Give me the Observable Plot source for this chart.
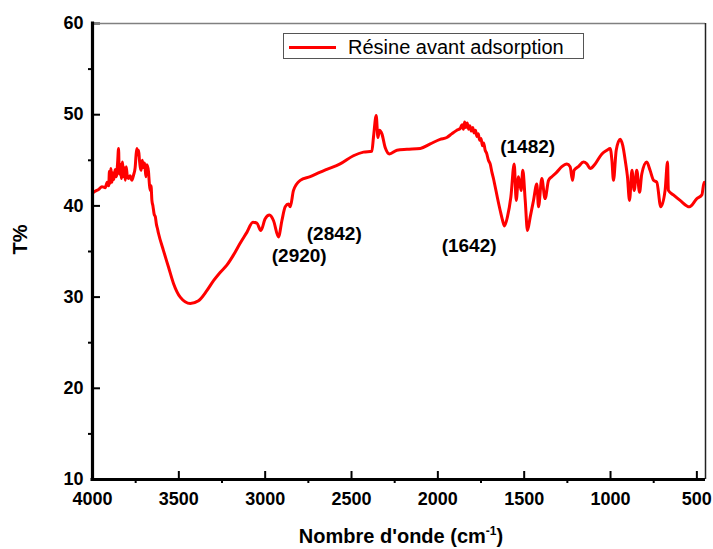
<!DOCTYPE html>
<html>
<head>
<meta charset="utf-8">
<script src="https://cdn.jsdelivr.net/npm/d3@7"></script>
<script src="https://cdn.jsdelivr.net/npm/@observablehq/plot@0.6"></script>
<style>
  html, body { margin: 0; padding: 0; background: #fff; }
  #wrap { position: relative; width: 713px; height: 549px; font-family: "Liberation Sans", Arial, sans-serif; }
  #legend { position: absolute; left: 283px; top: 33px; width: 299px; height: 24px; border: 1px solid #555; background: #fff; }
  #legend .swatch { position: absolute; left: 5px; top: 12px; width: 47px; height: 3px; background: #ff0000; }
  #legend .lbl { position: absolute; left: 64px; top: 3px; font-size: 20px; line-height: 20px; color: #000; white-space: nowrap; }
  #xtitle { position: absolute; left: 401px; top: 526px; transform: translateX(-50%); font-size: 20px; line-height: 20px; font-weight: bold; white-space: nowrap; }
  #xtitle .sup { font-size: 12px; position: relative; top: -8px; }
</style>
</head>
<body>
<div id="wrap">
  <div id="chart"></div>
  <div id="legend"><div class="swatch"></div><div class="lbl">Résine avant adsorption</div></div>
  <div id="xtitle">Nombre d'onde (cm<span class="sup">-1</span>)</div>
</div>
<script>
// FTIR spectrum of the resin before adsorption: wavenumber (cm-1) and transmittance (%)
const wavenumber = [
  4000, 3985, 3965, 3945, 3926, 3915, 3906, 3902, 3897, 3893, 3887, 3882, 3876, 3869,
  3862, 3855, 3849, 3845, 3840, 3833, 3826, 3820, 3816, 3810, 3805, 3798, 3792, 3782,
  3772, 3762, 3753, 3748, 3743, 3738, 3733, 3728, 3723, 3718, 3712, 3705, 3698, 3691,
  3685, 3676, 3671, 3666, 3661, 3656, 3650, 3643, 3636, 3630, 3625, 3618, 3589, 3560,
  3531, 3492, 3434, 3386, 3338, 3299, 3261, 3222, 3184, 3145, 3106, 3071, 3048, 3025,
  3000, 2975, 2952, 2923, 2903, 2884, 2865, 2855, 2836, 2797, 2739, 2681, 2643, 2566,
  2489, 2431, 2382, 2373, 2357, 2347, 2338, 2324, 2305, 2280, 2237, 2179, 2102, 2044,
  1987, 1948, 1920, 1890, 1870, 1860, 1852, 1845, 1838, 1830, 1822, 1815, 1806, 1798,
  1790, 1782, 1774, 1766, 1758, 1750, 1742, 1735, 1726, 1718, 1707, 1697, 1687, 1678,
  1668, 1655, 1639, 1625, 1614, 1597, 1577, 1558, 1546, 1533, 1518, 1508, 1494, 1481,
  1465, 1446, 1427, 1417, 1398, 1379, 1359, 1340, 1311, 1282, 1253, 1234, 1220, 1211,
  1186, 1157, 1137, 1118, 1089, 1050, 1021, 1002, 992, 983, 967, 944, 929, 915,
  902, 890, 876, 863, 848, 832, 819, 790, 771, 751, 732, 709, 684, 670,
  665, 636, 597, 543, 500, 471, 458, 450
];
const transmittance = [
  41.4, 41.6, 41.8, 42.1, 42.0, 42.6, 42.2, 43.8, 42.5, 44.1, 42.6, 43.6, 42.9, 44.0,
  43.2, 44.6, 46.3, 43.5, 44.6, 43.0, 44.8, 43.2, 44.2, 42.8, 44.3, 43.2, 43.0, 43.3,
  42.8, 43.4, 44.2, 45.5, 46.3, 45.6, 46.1, 45.0, 44.2, 43.9, 45.0, 44.2, 44.7, 43.2,
  44.5, 43.8, 42.5, 41.7, 42.2, 40.6, 40.0, 39.1, 38.8, 38.0, 37.6, 37.0, 35.1, 33.3,
  31.5, 30.0, 29.3, 29.6, 30.7, 31.8, 32.7, 33.5, 34.6, 35.9, 37.1, 38.2, 38.1, 37.3,
  38.6, 39.0, 38.4, 36.6, 38.4, 39.9, 40.2, 39.9, 41.7, 42.8, 43.2, 43.7, 44.0, 44.6,
  45.5, 45.9, 46.0, 47.5, 49.9, 47.5, 48.3, 47.9, 46.4, 45.7, 46.1, 46.2, 46.3, 46.8,
  47.3, 47.5, 47.9, 48.3, 48.5, 48.9, 48.4, 49.2, 48.6, 49.1, 48.4, 48.8, 48.2, 48.6,
  48.0, 48.3, 47.6, 47.9, 47.2, 47.4, 46.6, 46.9, 46.1, 45.8, 45.0, 44.6, 43.7, 43.0,
  42.1, 40.9, 39.5, 38.4, 37.8, 38.8, 41.0, 44.6, 40.6, 43.2, 41.7, 43.9, 40.6, 37.3,
  38.8, 40.6, 42.4, 39.9, 43.0, 40.8, 42.8, 43.2, 43.7, 44.3, 44.6, 44.3, 42.8, 43.9,
  44.3, 44.8, 44.6, 44.1, 44.6, 45.7, 46.1, 46.3, 45.0, 42.8, 46.1, 47.3, 46.6, 45.0,
  43.2, 40.6, 43.9, 41.7, 43.9, 41.5, 43.5, 44.8, 43.9, 42.8, 42.6, 39.9, 41.7, 44.8,
  41.7, 41.2, 40.6, 39.9, 40.8, 41.2, 42.6, 42.5
];

// Band assignments written on the spectrum
const bandLabels = ["(2920)", "(2842)", "(1642)", "(1482)"];
const bandLabelX = [2803, 2600, 1819, 1480];
const bandLabelY = [34.5, 36.9, 35.6, 46.5];

// Axis settings
const xDomain = [4000, 450];
const yDomain = [10, 60];
const xMajor = [4000, 3500, 3000, 2500, 2000, 1500, 1000, 500];
const xMinor = [3750, 3250, 2750, 2250, 1750, 1250, 750];
const yMajor = [10, 20, 30, 40, 50, 60];
const yMinor = [15, 25, 35, 45, 55];
const yTitle = "T%";

const spectrum = wavenumber.map((w, i) => ({w, t: transmittance[i]}));
const bands = bandLabels.map((label, i) => ({label, x: bandLabelX[i], y: bandLabelY[i]}));

const W = 713, H = 549, mL = 92, mR = 8, mT = 23, mB = 70;
const innerW = W - mL - mR, innerH = H - mT - mB;

const chart = Plot.plot({
  width: W,
  height: H,
  marginLeft: mL,
  marginRight: mR,
  marginTop: mT,
  marginBottom: mB,
  style: {fontFamily: "'Liberation Sans', Arial, sans-serif", background: "white", color: "black"},
  x: {domain: xDomain},
  y: {domain: yDomain},
  marks: [
    // major ticks point inward, minor ticks outward
    Plot.ruleX(xMajor, {insetTop: innerH - 8, strokeWidth: 2}),
    Plot.ruleX(xMinor, {insetTop: innerH, insetBottom: -4, strokeWidth: 2}),
    Plot.ruleY(yMajor, {insetRight: innerW - 8, strokeWidth: 2}),
    Plot.ruleY(yMinor, {insetRight: innerW, insetLeft: -4, strokeWidth: 2}),
    Plot.axisX({ticks: xMajor, tickSize: 0, tickPadding: 12.5, fontSize: 18, fontWeight: "bold", label: null, tickFormat: d => String(d)}),
    Plot.axisY({ticks: yMajor, tickSize: 0, tickPadding: 9, fontSize: 18, fontWeight: "bold", label: null, tickFormat: d => String(d)}),
    // frame: thin top/right, heavy left/bottom axis lines
    Plot.ruleY([yDomain[1]], {stroke: "#808080", strokeWidth: 1.5}),
    Plot.ruleX([xDomain[1]], {stroke: "#222", strokeWidth: 1.5}),
    Plot.line(spectrum, {x: "w", y: "t", stroke: "#ff0000", strokeWidth: 3, curve: "monotone-x", strokeLinejoin: "round", clip: true}),
    Plot.ruleX([xDomain[0]], {stroke: "black", strokeWidth: 3.2, insetTop: -1.5}),
    Plot.ruleY([yDomain[0]], {stroke: "black", strokeWidth: 3.2, insetLeft: -1.5}),
    Plot.text(bands, {x: "x", y: "y", text: "label", fontSize: 19, fontWeight: "bold", fill: "black"}),
    Plot.text([yTitle], {frameAnchor: "left", dx: -72, dy: 3, rotate: -90, fontSize: 20, fontWeight: "bold", fill: "black"})
  ]
});
document.getElementById("chart").appendChild(chart);
</script>
</body>
</html>
